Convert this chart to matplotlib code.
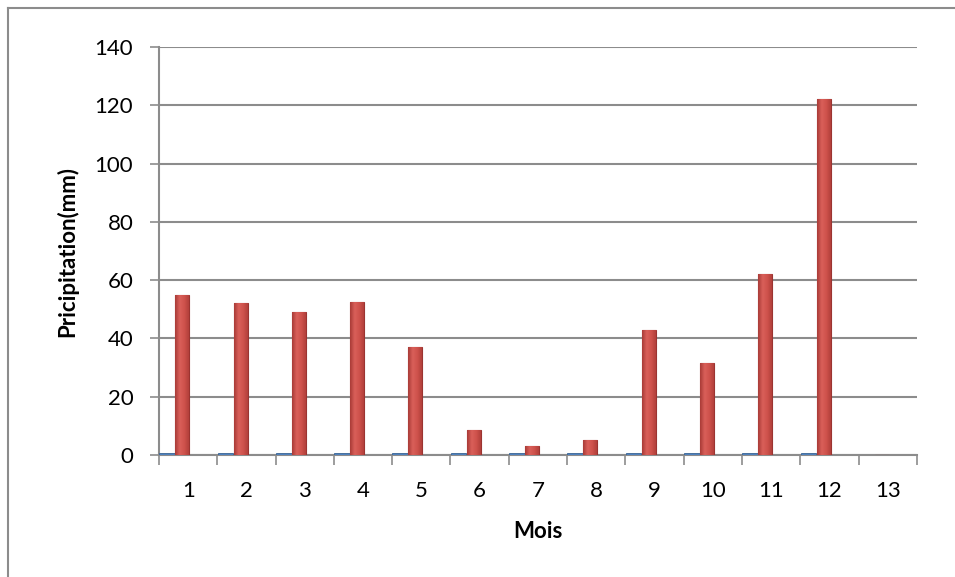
import numpy as np
import matplotlib
matplotlib.use("Agg")
import matplotlib.pyplot as plt
from matplotlib.lines import Line2D
from matplotlib.colors import LinearSegmentedColormap

# monthly data
mois = [1, 2, 3, 4, 5, 6, 7, 8, 9, 10, 11, 12, 13]
precip = [55, 52, 49, 52.5, 37, 8.5, 3, 5, 43, 31.5, 62, 122, 0]
serie_bleue = [0.6, 0.6, 0.6, 0.6, 0.6, 0.6, 0.6, 0.6, 0.6, 0.6, 0.6, 0.6, 0]
y_ticks = [0, 20, 40, 60, 80, 100, 120, 140]

plt.rcParams['font.family'] = ['Lato', 'DejaVu Sans']

fig = plt.figure(figsize=(9.55, 5.77), dpi=100)
ax = fig.add_axes([0.1665, 0.2114, 0.7935, 0.7071])

x = np.array(mois)
ax.bar(x - 0.36, serie_bleue, width=0.27, color='#4f81bd', edgecolor='#3a6595',
       linewidth=0.6, zorder=3)
bars = ax.bar(x - 0.1, precip, width=0.24, color='#cd4f4a', edgecolor='#9b3431',
              linewidth=0.8, zorder=3)

# cylinder-like shading on the red columns
cyl = LinearSegmentedColormap.from_list('cyl', ['#a83a36', '#d9605a', '#cf524c', '#b2403b'])
grad = np.linspace(0, 1, 64).reshape(1, -1)
for b in bars:
    if b.get_height() <= 0:
        continue
    x0, w, h = b.get_x(), b.get_width(), b.get_height()
    im = ax.imshow(grad, cmap=cyl, aspect='auto', extent=(x0, x0 + w, 0, h),
                   zorder=3.5, interpolation='bicubic')
    im.set_clip_path(b)

ax.set_xlim(0.5, 13.5)
ax.set_ylim(0, 140)
ax.set_yticks(y_ticks)
ax.set_xticks(x)
ax.set_xticks(np.arange(0.5, 14, 1), minor=True)
ax.tick_params(axis='x', which='major', length=0, pad=19, labelsize=16)
ax.tick_params(axis='x', which='minor', length=7, color='#8c8c8c', width=1.2)
ax.tick_params(axis='y', length=6.5, color='#8c8c8c', width=1.2, pad=12, labelsize=16)

ax.grid(axis='y', color='#8c8c8c', linewidth=1.5, zorder=0)
for s in ['top', 'right']:
    ax.spines[s].set_visible(False)
ax.spines['left'].set_color('#8c8c8c')
ax.spines['left'].set_linewidth(1.5)
ax.spines['bottom'].set_color('#8c8c8c')
ax.spines['bottom'].set_linewidth(1.5)

ax.set_xlabel('Mois', fontweight='bold', fontsize=16, labelpad=14)
ax.set_ylabel('Pricipitation(mm)', fontweight='bold', fontsize=16, labelpad=12)

# chart border (left and top only are visible)
fig.add_artist(Line2D([8/955, 8/955], [0, 1 - 8/577], color='#8c8c8c', lw=1.5,
                      transform=fig.transFigure))
fig.add_artist(Line2D([8/955, 1], [1 - 8/577, 1 - 8/577], color='#8c8c8c', lw=1.5,
                      transform=fig.transFigure))

fig.savefig('out.png', dpi=100)
